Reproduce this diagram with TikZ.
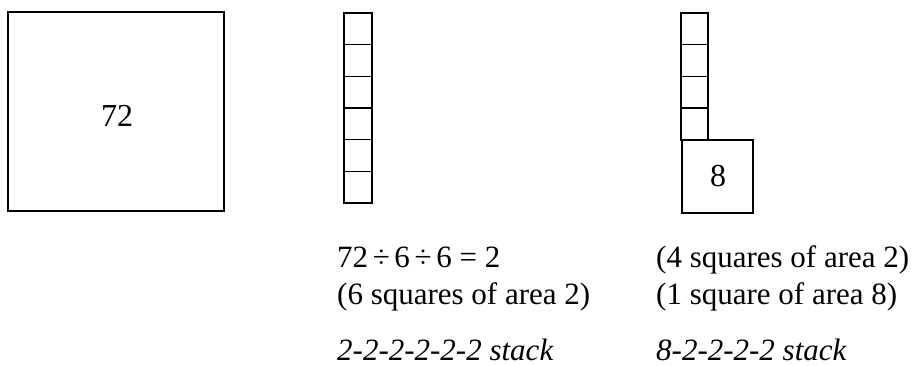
\documentclass[tikz,border=0pt]{standalone}
\usepackage{fontspec}
\setmainfont{Liberation Serif}
\usetikzlibrary{positioning}

\tikzset{
  cell/.style={line width=1.5pt},
  lbl/.style={anchor=base west, inner sep=0pt, font=\fontsize{31}{36}\selectfont},
  num/.style={inner sep=0pt, font=\fontsize{32}{36}\selectfont}
}

\begin{document}
\begin{tikzpicture}[x=1pt,y=-1pt]
\useasboundingbox (0,0) rectangle (922,366);

% Draw the big square
\draw[cell] (8,12) rectangle (224,211);
\node[num] (big) at (117,116) {72};

% Draw the 2-2-2-2-2-2 stack
\foreach \i in {0,...,5} {
    \draw[cell] (344,{13+\i*31.67}) rectangle (372,{13+(\i+1)*31.67});
}

% Draw the 8-2-2-2-2 stack
\foreach \i in {0,...,3} {
    \draw[cell] (681,{13+\i*31.75}) rectangle (708,{13+(\i+1)*31.75});
}
\draw[cell] (682,140) rectangle (753,213);
\node[num] (eight) at (718,176) {8};

% Texts below the stacks
\node[lbl] (divide) at (337,268) {72\hspace{0.15em}÷\hspace{0.15em}6\hspace{0.15em}÷\hspace{0.15em}6 = 2};
\node[lbl] (sixsq) at (337,305) {(6 squares of area 2)};
\node[lbl] (stackA) at (337,360) {\itshape 2-2-2-2-2-2 stack};

\node[lbl] (foursq) at (656,268) {(4 squares of area 2)};
\node[lbl] (onesq) at (656,305) {(1 square of area 8)};
\node[lbl] (stackB) at (656,360) {\itshape 8-2-2-2-2 stack};
\end{tikzpicture}
\end{document}
